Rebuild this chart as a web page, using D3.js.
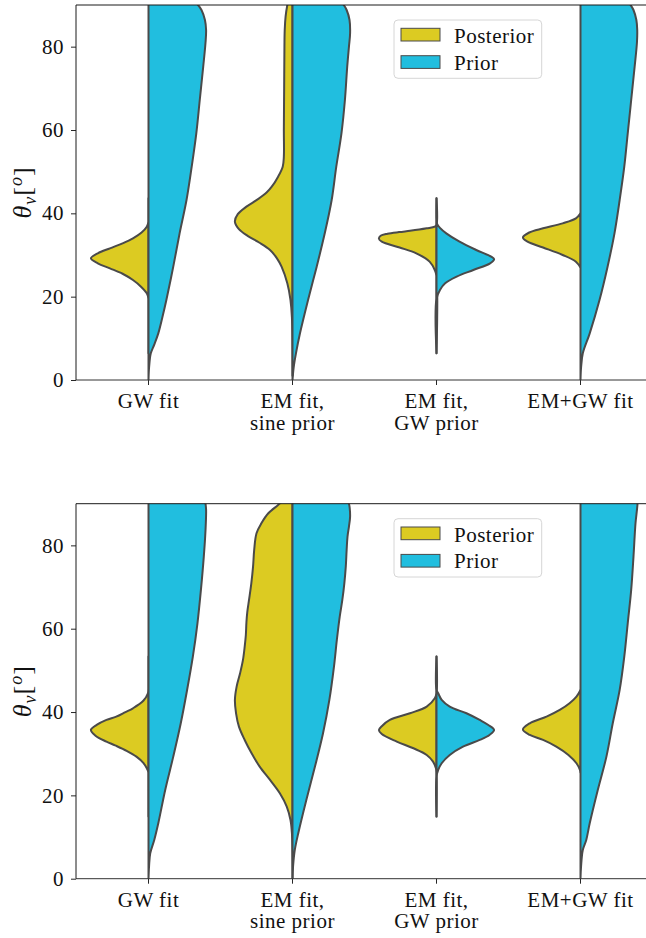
<!DOCTYPE html>
<html>
<head>
<meta charset="utf-8">
<script src="https://cdn.jsdelivr.net/npm/d3@7"></script>
<style>
  html, body { margin: 0; padding: 0; background: #ffffff; }
  svg { display: block; }
</style>
</head>
<body>
<script>
// Viewing-angle posteriors versus priors, drawn as split violins.
const categories = ["GW fit", "EM fit,\nsine prior", "EM fit,\nGW prior", "EM+GW fit"];
const seriesNames = ["Posterior", "Prior"];
const thetaTicks = [0, 20, 40, 60, 80];
const thetaDomain = [0, 90];

// Density profiles: [theta (deg), density scaled so each half peaks at 1].
// Upper panel
const upperGwFitPost = [[6.4,0],[19.5,0],[20.8,0.03],[22.4,0.13],[24,0.27],[25.5,0.45],[26.8,0.67],[28,0.88],[29.2,1],[30.4,0.88],[31.6,0.67],[32.8,0.45],[34,0.27],[35.4,0.12],[36.8,0.03],[38,0],[43.6,0]];
const upperGwFitPrior = [[0,0],[3,0.01],[6.4,0.04],[8.5,0.1],[11.2,0.17],[15,0.24],[19.2,0.31],[27.2,0.43],[35.2,0.54],[43.2,0.66],[51.2,0.75],[59.2,0.83],[67.2,0.89],[75.2,0.95],[81,0.99],[84,1],[86.4,0.98],[88.8,0.92],[90,0.86],[92,0.7],[95,0.4]];
const upperEmSinePost = [[1,0],[15,0.01],[19.2,0.035],[23.2,0.09],[27.2,0.19],[29.2,0.27],[31.2,0.39],[33,0.58],[34.6,0.78],[36.2,0.93],[38,1],[39.8,0.95],[41.6,0.8],[43.4,0.6],[45,0.45],[46.4,0.36],[48.8,0.25],[51.2,0.17],[53.6,0.15],[60,0.15],[70,0.145],[80,0.14],[84,0.135],[87.2,0.12],[90,0.09],[93,0.04]];
const upperEmSinePrior = [[0,0],[3,0.02],[6.4,0.06],[11.2,0.13],[19.2,0.27],[27.2,0.42],[35.2,0.56],[43.2,0.68],[51.2,0.76],[59.2,0.85],[67.2,0.91],[75.2,0.95],[80,0.98],[83.2,1],[86.4,0.99],[88.8,0.94],[90,0.89],[93,0.7],[96,0.4]];
const upperEmGwPost = [[6.4,0],[25,0],[26.4,0.03],[28.4,0.12],[30.4,0.35],[31.8,0.64],[33.2,0.95],[33.9,1],[34.6,0.97],[35.1,0.85],[35.5,0.65],[35.8,0.46],[36.1,0.3],[36.4,0.17],[36.8,0.03],[37.3,0],[43.6,0]];
const upperEmGwPrior = [[6.4,0],[19.5,0],[21.6,0.06],[23.2,0.15],[24.8,0.35],[26.4,0.64],[28,0.93],[29,1],[29.6,0.95],[31.2,0.69],[33.2,0.4],[35.2,0.17],[36.5,0.06],[37.5,0.01],[38.5,0],[43.6,0]];
const upperEmGwFitPost = [[27,0],[28.4,0.08],[30,0.31],[31.8,0.65],[33.2,0.92],[34.2,1],[35.4,0.89],[36.4,0.65],[37.6,0.31],[38.8,0.08],[40,0]];
const upperEmGwFitPrior = [[0,0],[3,0.01],[6.4,0.04],[11.2,0.16],[19.2,0.33],[27.2,0.47],[35.2,0.59],[43.2,0.68],[51.2,0.76],[59.2,0.82],[67.2,0.88],[75.2,0.94],[81,0.98],[84,0.985],[86.4,0.97],[88.8,0.92],[90,0.87],[93,0.7],[96,0.4]];
// Lower panel
const lowerGwFitPost = [[14.9,0],[25.5,0],[26.5,0.03],[27.8,0.09],[29.3,0.21],[30.7,0.38],[32,0.58],[32.9,0.73],[34.3,0.92],[35.7,1],[36.9,0.9],[38.1,0.73],[38.9,0.56],[40,0.4],[40.9,0.27],[42.7,0.09],[44.5,0.01],[45.5,0],[53.3,0]];
const lowerGwFitPrior = [[0,0],[3,0.01],[6.1,0.03],[9.3,0.1],[13.3,0.17],[21.3,0.29],[29.3,0.43],[37.3,0.56],[45.3,0.67],[53.3,0.77],[61.3,0.85],[69.3,0.91],[77.3,0.96],[83.7,0.99],[88.5,1],[90,0.99],[93,0.95],[96,0.8]];
const lowerEmSinePost = [[0,0],[10.9,0.01],[14.1,0.035],[17.3,0.1],[20.5,0.22],[23.7,0.39],[26.9,0.57],[30.1,0.71],[33.3,0.83],[36.5,0.93],[39.7,0.98],[42.9,1],[46.1,0.97],[49.3,0.91],[52.5,0.86],[55.7,0.83],[58.5,0.81],[61.5,0.8],[64,0.785],[66.9,0.755],[70.9,0.715],[74.9,0.685],[78.9,0.665],[82.9,0.625],[85.3,0.54],[87.7,0.42],[89.7,0.25],[91,0.15],[93,0.05]];
const lowerEmSinePrior = [[0,0],[3,0.01],[6.9,0.04],[10.9,0.1],[18.9,0.24],[26.9,0.39],[34.9,0.53],[42.9,0.64],[50.9,0.72],[57.3,0.77],[62.9,0.82],[66.9,0.865],[70.9,0.9],[74.9,0.925],[78.9,0.94],[82.1,0.955],[84.5,0.98],[86.9,1],[89.3,0.99],[90,0.98],[93,0.9],[96,0.7]];
const lowerEmGwPost = [[14.9,0],[25.5,0],[26.5,0.01],[28.1,0.06],[29.7,0.17],[31.3,0.4],[32.9,0.69],[34.7,0.95],[35.7,1],[36.6,0.95],[38.1,0.81],[39.7,0.46],[41.3,0.17],[43.3,0.03],[44.5,0],[53.3,0]];
const lowerEmGwPrior = [[14.9,0],[24.5,0],[26.1,0.03],[27.7,0.09],[29.7,0.23],[31.7,0.46],[33.3,0.75],[34.5,0.92],[35.7,1],[36.9,0.9],[38.1,0.75],[39.7,0.52],[41.3,0.23],[42.9,0.09],[44.5,0.03],[45.3,0],[53.3,0]];
const lowerEmGwFitPost = [[25.5,0],[26.1,0.01],[27.7,0.07],[29.7,0.21],[31.7,0.42],[33.3,0.65],[34.5,0.88],[35.8,1],[37.3,0.88],[38.9,0.59],[40.5,0.36],[42.1,0.19],[43.7,0.07],[45.3,0]];
const lowerEmGwFitPrior = [[0,0],[3,0.01],[6.9,0.04],[9.3,0.1],[13.3,0.16],[21.3,0.3],[29.3,0.45],[37.3,0.56],[45.3,0.68],[53.3,0.76],[61.3,0.82],[69.3,0.88],[77.3,0.92],[85.3,0.955],[88.5,0.98],[90,0.99],[93,1],[96,0.9]];

const W = 646, H = 938;
const colors = { Posterior: "#dccb22", Prior: "#21bedf" };
const edge = "#4a4a4a";
const serif = "\"Liberation Serif\"";

const panels = [
  { top: 5, bottom: 380,
    posterior: [upperGwFitPost, upperEmSinePost, upperEmGwPost, upperEmGwFitPost],
    prior: [upperGwFitPrior, upperEmSinePrior, upperEmGwPrior, upperEmGwFitPrior] },
  { top: 503.7, bottom: 878.7,
    posterior: [lowerGwFitPost, lowerEmSinePost, lowerEmGwPost, lowerEmGwFitPost],
    prior: [lowerGwFitPrior, lowerEmSinePrior, lowerEmGwPrior, lowerEmGwFitPrior] }
];

const svg = d3.select("body").append("svg")
  .attr("width", W).attr("height", H);

const x = d3.scaleBand().domain(categories).range([76.5, 652.5]);
const halfWidth = d3.scaleLinear().domain([0, 1]).range([0, x.bandwidth() * 0.4]);
const axisLeftEdge = 76;

// plain text helper so every label gets the same serif face
function label(sel, size) {
  return sel.style("font-family", serif).style("font-size", size + "px")
    .style("letter-spacing", "0.5px").attr("fill", "#111");
}

panels.forEach((p, pi) => {
  const y = d3.scaleLinear().domain(thetaDomain).range([p.bottom, p.top]);
  const g = svg.append("g");

  const clipId = "clip" + pi;
  svg.append("clipPath").attr("id", clipId)
    .append("rect")
    .attr("x", axisLeftEdge).attr("y", p.top)
    .attr("width", 652.5 - axisLeftEdge).attr("height", p.bottom - p.top);

  const plot = g.append("g").attr("clip-path", `url(#${clipId})`);

  categories.forEach((cat, ci) => {
    const cx = x(cat) + x.bandwidth() / 2;
    [["Posterior", p.posterior[ci], -1], ["Prior", p.prior[ci], 1]].forEach(([name, dens, side]) => {
      const area = d3.area()
        .curve(d3.curveCatmullRom.alpha(0.5))
        .y(d => y(d[0]))
        .x0(cx)
        .x1(d => cx + side * halfWidth(d[1]));
      plot.append("path")
        .datum(dens)
        .attr("d", area)
        .attr("fill", colors[name])
        .attr("stroke", edge)
        .attr("stroke-width", 2)
        .attr("stroke-linejoin", "round");
    });
  });

  // tick marks from the library axes; labels drawn as plain text below
  const yAxis = g.append("g")
    .attr("transform", `translate(${axisLeftEdge},0)`)
    .call(d3.axisLeft(y).tickValues(thetaTicks).tickSize(5).tickSizeOuter(0).tickFormat(""));
  const xAxis = g.append("g")
    .attr("transform", `translate(0,${p.bottom})`)
    .call(d3.axisBottom(x).tickSize(5).tickSizeOuter(0).tickFormat(""));
  [yAxis, xAxis].forEach(a => {
    a.selectAll("path.domain").remove();
    a.selectAll(".tick text").remove();
    a.selectAll(".tick line").attr("stroke", "#262626").attr("stroke-width", 1);
  });

  thetaTicks.forEach(v => {
    label(g.append("text"), 21)
      .attr("x", axisLeftEdge - 12).attr("y", y(v)).attr("dy", "0.34em")
      .attr("text-anchor", "end").text(v);
  });
  categories.forEach(cat => {
    const t = label(g.append("text"), 21)
      .attr("text-anchor", "middle")
      .attr("transform", `translate(${x(cat) + x.bandwidth() / 2},${p.bottom + 28})`);
    cat.split("\n").forEach((ln, li) => {
      t.append("tspan").attr("x", 0).attr("y", li * 21.5).text(ln);
    });
  });

  // spines
  g.append("line").attr("x1", axisLeftEdge).attr("x2", 652.5).attr("y1", p.top).attr("y2", p.top)
    .attr("stroke", "#1a1a1a").attr("stroke-width", 1);
  g.append("line").attr("x1", axisLeftEdge).attr("x2", 652.5).attr("y1", p.bottom).attr("y2", p.bottom)
    .attr("stroke", "#333").attr("stroke-width", 1);
  g.append("line").attr("x1", axisLeftEdge).attr("x2", axisLeftEdge).attr("y1", p.top).attr("y2", p.bottom)
    .attr("stroke", "#1a1a1a").attr("stroke-width", 1);

  // y label: theta_v [deg]
  const yl = label(g.append("text"), 26)
    .style("letter-spacing", "1px")
    .attr("transform", `translate(31,${(p.top + p.bottom) / 2}) rotate(-90)`)
    .attr("text-anchor", "middle");
  yl.append("tspan").style("font-style", "italic").text("θ");
  yl.append("tspan").style("font-style", "italic").style("font-size", "18px").attr("dy", 5).text("v");
  yl.append("tspan").attr("dy", -5).text("[");
  yl.append("tspan").style("font-style", "italic").style("font-size", "18px").attr("dy", -9).text("o");
  yl.append("tspan").attr("dy", 9).text("]");

  // legend
  const lg = g.append("g").attr("transform", `translate(394,${p.top + 15})`);
  lg.append("rect").attr("x", 0).attr("y", 0).attr("width", 147.7).attr("height", 58.3)
    .attr("rx", 4).attr("fill", "#fff").attr("fill-opacity", 0.85)
    .attr("stroke", "#d6d6d6").attr("stroke-width", 1);
  seriesNames.forEach((name, i) => {
    lg.append("rect").attr("x", 7).attr("y", 8.3 + i * 27.4).attr("width", 39).attr("height", 12.7)
      .attr("fill", colors[name]).attr("stroke", edge).attr("stroke-width", 1);
    label(lg.append("text"), 21).attr("x", 60).attr("y", 23.3 + i * 26.3).text(name);
  });
});
</script>
</body>
</html>
